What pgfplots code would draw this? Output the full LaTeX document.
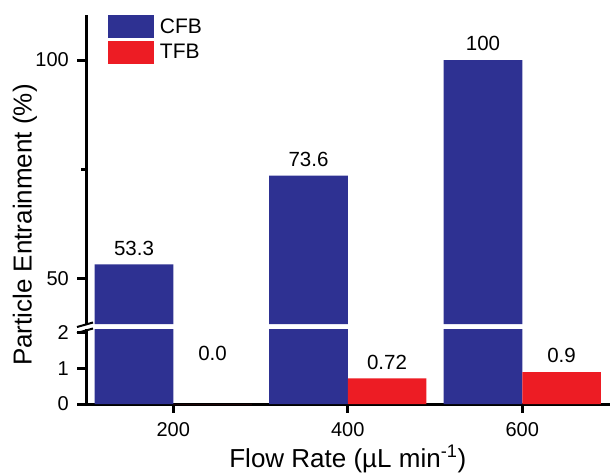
\documentclass[border=0pt]{standalone}
\usepackage{fontspec}
\setmainfont{Liberation Sans}
\usepackage{pgfplots}
\pgfplotsset{compat=1.18}
\definecolor{cfb}{RGB}{46,49,146}
\definecolor{tfb}{RGB}{237,28,36}
\begin{document}
\begin{tikzpicture}
\pgfplotsset{
  common/.style={
    scale only axis, width=523.5pt,
    xmin=100, xmax=700,
    ybar=0pt, bar width=90, bar shift=0pt,
    axis line style={line width=3pt, black},
    every tick/.style={line width=3pt, black},
    major tick length=9pt,
    minor tick length=5pt,
    tick align=outside,
    /pgf/number format/assume math mode=true,
    ticklabel style={font=\fontsize{20}{24}\selectfont, inner sep=0pt},
    yticklabel style={xshift=-8pt},
    xticklabel style={yshift=-9pt},
    nodes near coords style={font=\fontsize{20.5}{24}\selectfont, inner sep=0pt, anchor=south, yshift=9pt},
  }
}
% lower panel
\begin{axis}[common, at={(86pt,68pt)}, anchor=south west, height=75pt,
  ymin=0, ymax=2.11,
  axis x line*=bottom, axis y line*=left,
  ytick={0,1,2}, xtick={200,400,600},
  xlabel={Flow Rate (\textmu L min\textsuperscript{-1})},
  xlabel style={font=\fontsize{26}{30}\selectfont, at={(axis description cs:0.5,0)}, anchor=base, yshift=-63pt, inner sep=0pt},
]
\addplot[fill=cfb, draw=none] coordinates {(155,53.3) (355,73.6) (555,100)};
\addplot[fill=tfb, draw=none, nodes near coords, point meta=explicit symbolic]
  coordinates {(445,0.72) [0.72] (645,0.9) [0.9]};
\addplot[fill=tfb, draw=none, nodes near coords, point meta=explicit symbolic,
  nodes near coords style={yshift=34pt}]
  coordinates {(245,0) [0.0]};
\end{axis}
% upper panel
\begin{axis}[common, at={(86pt,148pt)}, anchor=south west, height=309pt,
  ymin=39.7, ymax=110.3,
  axis y line*=left, axis x line=none,
  ytick={50,100}, minor ytick={75}, xtick=\empty,
  ylabel={Particle Entrainment (\%)},
  ylabel style={font=\fontsize{26}{30}\selectfont, at={(axis description cs:-0.1165,0.32)}, anchor=center, inner sep=0pt},
  legend style={at={(axis description cs:0.042,1)}, anchor=north west, draw=none, fill=none,
    inner sep=0pt, outer sep=0pt, font=\fontsize{21}{25}\selectfont, row sep=3pt,
    cells={anchor=west}, nodes={inner sep=0pt}},
  legend image code/.code={\fill[#1] (0pt,-11.5pt) rectangle (46pt,11.5pt); \path (52pt,0pt);},
]
\addplot[fill=cfb, draw=none, nodes near coords]
  coordinates {(155,53.3) (355,73.6) (555,100)};
\addlegendentry{CFB}
\addlegendimage{fill=tfb, draw=none}
\addlegendentry{TFB}
\end{axis}
% axis break marks
\draw[line width=2pt] (77pt,145pt) -- (93pt,149.5pt);
\draw[line width=2pt] (77pt,139pt) -- (93pt,143.5pt);
\pgfresetboundingbox
\path[use as bounding box] (0pt,0pt) rectangle (610pt,472pt);
\end{tikzpicture}
\end{document}
